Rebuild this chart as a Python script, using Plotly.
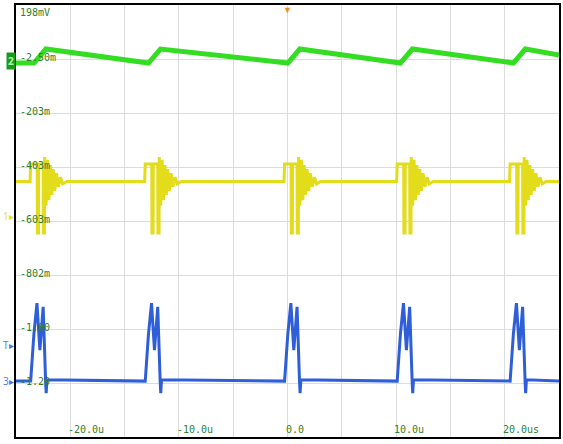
import plotly.graph_objects as go

# scope capture: 5 us/div, 200 mV/div, three channels on one screen
event_times = [-23.65, -13.1, -0.27, 10.1, 20.5]  # us, start of each switching event

# green (ch2): ramp up after each event then slow droop
green_low = -0.017
green_high = 0.035
green_rise = [0.3, 1.4]  # us after event

# yellow (ch1): step, two deep notches, decaying ringing
yellow_base = -0.456
yellow_off = [-0.05, 0.0, 0.6, 0.62, 0.72, 0.74, 1.15, 1.17, 1.27, 1.29, 1.42, 1.55,
              1.68, 1.81, 1.94, 2.07, 2.22, 2.38, 2.55, 2.75, 2.95, 3.3]
yellow_val = [-0.456, -0.391, -0.391, -0.646, -0.646, -0.391, -0.391, -0.646, -0.646, -0.365,
              -0.545, -0.375, -0.525, -0.395, -0.505, -0.41, -0.49, -0.425, -0.475, -0.44,
              -0.465, -0.456]

# blue (ch3): double-humped current pulse
blue_base = -1.195
blue_off = [-0.05, 0.0, 0.3, 0.58, 0.85, 1.15, 1.38, 1.43, 1.5]
blue_val = [-1.195, -1.195, -1.02, -0.906, -1.08, -0.92, -1.2, -1.24, -1.19]

y_labels = ["198mV", "-2.50m", "-203m", "-403m", "-603m", "-802m", "-1.00", "-1.20"]
y_levels = [0.198, -0.0025, -0.203, -0.403, -0.603, -0.802, -1.002, -1.202]
x_labels = ["-20.0u", "-10.0u", "0.0", "10.0u", "20.0us"]
x_levels = [-20, -10, 0, 10, 20]

T0, T1 = -25, 25

gx, gy = [T0], [green_low]
for t in event_times:
    gx += [t + green_rise[0], t + green_rise[1]]
    gy += [green_low, green_high]
gx.append(T1)
gy.append(green_high - (green_high - green_low) * (T1 - event_times[-1]) / 10.4)

yx, yy = [T0], [yellow_base]
bx, by = [T0], [blue_base]
for t in event_times:
    yx += [t + o for o in yellow_off]
    yy += yellow_val
    bx += [t + o for o in blue_off]
    by += blue_val
yx.append(T1); yy.append(yellow_base)
bx.append(T1); by.append(blue_base)

fig = go.Figure()
fig.add_trace(go.Scatter(x=gx, y=gy, mode="lines", line=dict(color="#33dd22", width=5)))
fig.add_trace(go.Scatter(x=yx, y=yy, mode="lines", line=dict(color="#e3dc1a", width=3)))
fig.add_trace(go.Scatter(x=bx, y=by, mode="lines", line=dict(color="#2f5fd8", width=3)))

lab = dict(family="DejaVu Sans Mono", size=10, color="#2f7f2f")
for txt, v in zip(y_labels, y_levels):
    top = v == y_levels[0]
    fig.add_annotation(x=T0, y=v, text=txt, showarrow=False, xanchor="left",
                       yanchor="top" if top else "middle", xshift=2, yshift=0 if top else 2, font=lab)
for txt, v in zip(x_labels, x_levels):
    fig.add_annotation(x=v, y=-1.402, text=txt, showarrow=False, xanchor="left", yanchor="bottom",
                       xshift=-4, font=lab)

# channel markers on the left edge
fig.add_annotation(xref="paper", x=0, y=-0.01, text="<b>2</b>", showarrow=False, xanchor="right",
                   bgcolor="#1a9a1a", font=dict(size=10, color="#aaffaa"))
fig.add_annotation(xref="paper", x=0, y=-0.585, text="1▸", showarrow=False, xanchor="right",
                   font=dict(size=10, color="#e8e020"))
fig.add_annotation(xref="paper", x=0, y=-1.06, text="T▸", showarrow=False, xanchor="right",
                   font=dict(size=10, color="#4a7ae8"))
fig.add_annotation(xref="paper", x=0, y=-1.195, text="3▸", showarrow=False, xanchor="right",
                   font=dict(size=10, color="#4a7ae8"))
fig.add_annotation(x=0, yref="paper", y=1, text="▼", showarrow=False, yanchor="top", yshift=4,
                   font=dict(size=9, color="#f08c1a"))

grid = dict(showgrid=True, gridcolor="#dcdcdc", gridwidth=1, zeroline=False, showticklabels=False,
            ticks="", showline=True, linecolor="black", linewidth=2, mirror=True)
fig.update_layout(
    width=563, height=444, showlegend=False,
    margin=dict(l=16, r=2, t=5, b=7),
    paper_bgcolor="white", plot_bgcolor="white",
    xaxis=dict(range=[T0, T1], dtick=5, tick0=0, **grid),
    yaxis=dict(range=[-1.402, 0.198], dtick=0.2, tick0=-0.002, **grid),
)
fig.write_html("out.html", config={"displayModeBar": False},
               post_script="document.body.style.margin='0';")
